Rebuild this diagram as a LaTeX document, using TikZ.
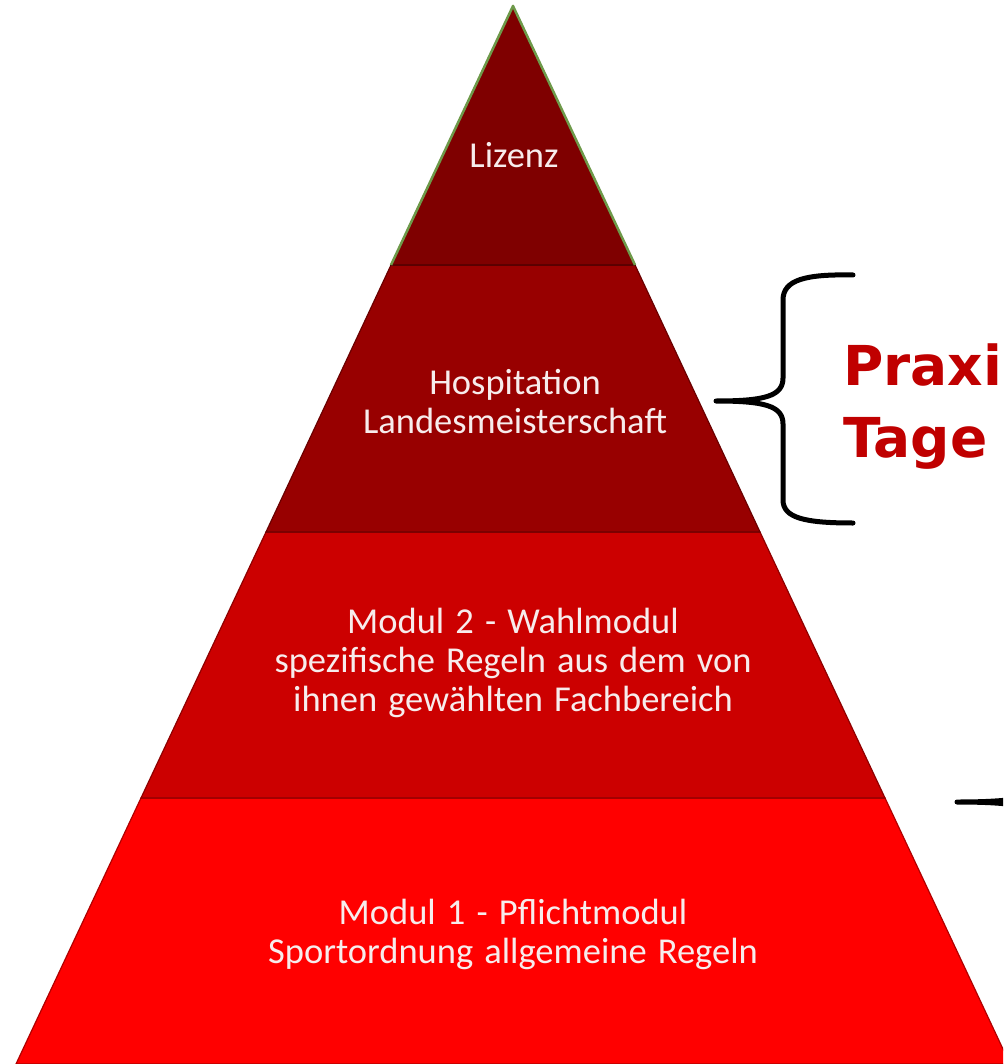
\documentclass[tikz,border=0pt]{standalone}
\usepackage{fontspec}
\setmainfont{Carlito}[WordSpace={1.35,1,1}]
\newfontfamily\praxfont{DejaVu Sans}
\definecolor{lvlA}{HTML}{7F0000}
\definecolor{lvlB}{HTML}{980000}
\definecolor{lvlC}{HTML}{CC0000}
\definecolor{lvlD}{HTML}{FF0000}
\definecolor{edgeA}{HTML}{4A0000}
\definecolor{edgeB}{HTML}{6A0000}
\definecolor{edgeC}{HTML}{8E0000}
\definecolor{edgeD}{HTML}{B00000}
\definecolor{apexgreen}{HTML}{6E9A4A}
\definecolor{labeltext}{HTML}{F7ECEC}
\definecolor{praxred}{HTML}{C00000}
\tikzset{
  layertext/.style={align=center, text=labeltext, inner sep=0pt,
    font=\fontsize{36.5}{39}\selectfont},
  bracestroke/.style={draw=black, line width=5pt, line cap=round, line join=round},
  praxtext/.style={align=left, text=praxred, inner sep=0pt, anchor=base west,
    font=\praxfont\bfseries\fontsize{55}{72}\selectfont},
}
\begin{document}
\begin{tikzpicture}[x=1pt, y=-1pt]
\useasboundingbox (0,0) rectangle (1003,1064);
\clip (0,0) rectangle (1003,1064);
\fill[white] (0,0) rectangle (1003,1064);
% pyramid layers
\filldraw[fill=lvlD, draw=edgeD, line width=1.2pt] (141,798) -- (885,798) -- (1010,1064) -- (16,1064) -- cycle;
\filldraw[fill=lvlC, draw=edgeC, line width=1.2pt] (266,532) -- (760,532) -- (885,798) -- (141,798) -- cycle;
\filldraw[fill=lvlB, draw=edgeB, line width=1.2pt] (391,265) -- (635,265) -- (760,532) -- (266,532) -- cycle;
\filldraw[fill=lvlA, draw=edgeA, line width=1.2pt] (513,6) -- (635,265) -- (391,265) -- cycle;
\draw[apexgreen, line width=2.5pt, line join=round] (391,265) -- (513,6) -- (635,265);
% labels
\node[layertext, anchor=base] (lizenz) at (514,168) {Lizenz};
\node[layertext] (hosp) at (515,402) {Hospitation\\Landesmeisterschaft};
\node[layertext] (modzwei) at (513,663) {Modul 2 - Wahlmodul\\spezifische Regeln aus dem von\\ihnen gewählten Fachbereich};
\node[layertext] (modeins) at (513,934) {Modul 1 - Pflichtmodul\\Sportordnung allgemeine Regeln};
% brace
\draw[bracestroke] (853,275) .. controls (805,274) and (783,280) .. (783,300)
  -- (783,378) .. controls (783,396) and (765,401) .. (716,401)
  .. controls (765,401) and (783,406) .. (783,424)
  -- (783,500) .. controls (783,518) and (805,523) .. (853,523);
\node[praxtext] (praxis) at (843,457) {Praxi\\Tage};
% second brace (tip only visible)
\draw[bracestroke] (1040,560) -- (1040,785) .. controls (1040,798) and (1010,802) .. (957,802)
  .. controls (1010,802) and (1040,806) .. (1040,819) -- (1040,1064);
\end{tikzpicture}
\end{document}
